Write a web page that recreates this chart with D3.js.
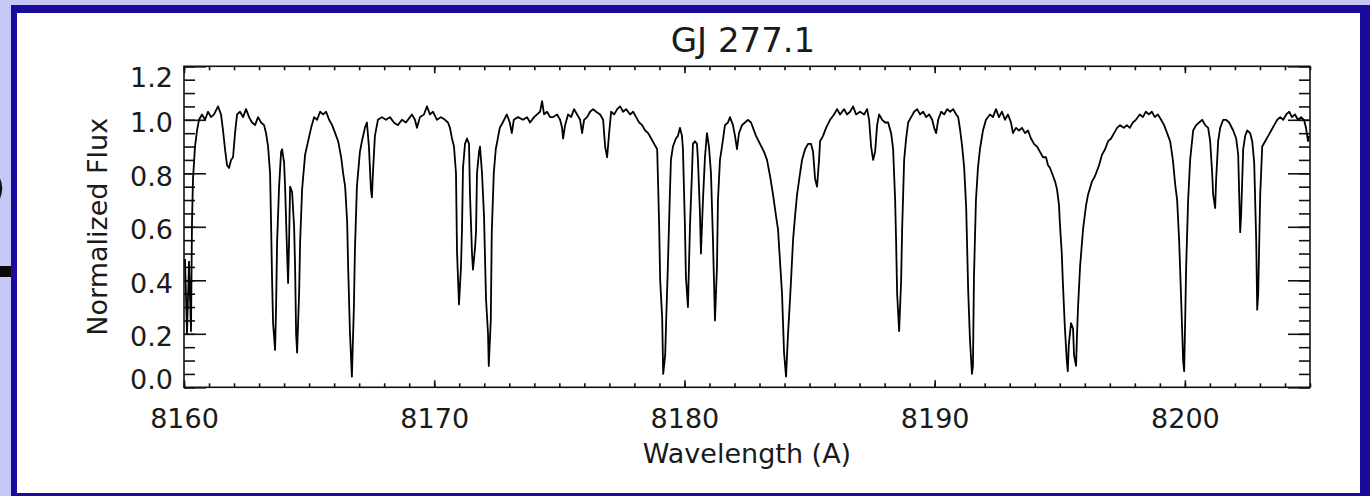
<!DOCTYPE html>
<html>
<head>
<meta charset="utf-8">
<script src="https://cdn.jsdelivr.net/npm/d3@7"></script>
<style>
  body { margin: 0; background: #c8c8f8; }
  svg { display: block; }
  text { font-family: "DejaVu Sans", sans-serif; fill: #1a1a1a; }
</style>
</head>
<body>
<svg id="chart" width="1370" height="496"></svg>
<script>
const title = "GJ 277.1";
const xLabel = "Wavelength (A)";
const yLabel = "Normalized Flux";
const xDomain = [8160, 8205];
const yDomain = [0, 1.2];
const xTicks = [8160, 8170, 8180, 8190, 8200];
const yTicks = [0, 0.2, 0.4, 0.6, 0.8, 1.0, 1.2];

// spectrum
const wavelength = [
  8160.04, 8160.12, 8160.20, 8160.28, 8160.32, 8160.36, 8160.44, 8160.52, 8160.60, 8160.72,
  8160.84, 8160.96, 8161.08, 8161.20, 8161.36, 8161.48, 8161.56, 8161.64, 8161.72, 8161.80,
  8161.88, 8161.96, 8162.04, 8162.12, 8162.24, 8162.36, 8162.48, 8162.60, 8162.72, 8162.84,
  8162.96, 8163.08, 8163.20, 8163.28, 8163.36, 8163.44, 8163.48, 8163.52, 8163.56, 8163.64,
  8163.68, 8163.72, 8163.80, 8163.88, 8163.92, 8164.00, 8164.04, 8164.12, 8164.16, 8164.20,
  8164.24, 8164.32, 8164.40, 8164.44, 8164.48, 8164.52, 8164.60, 8164.64, 8164.72, 8164.84,
  8164.96, 8165.08, 8165.20, 8165.32, 8165.44, 8165.56, 8165.68, 8165.80, 8165.92, 8166.04,
  8166.16, 8166.28, 8166.36, 8166.44, 8166.52, 8166.56, 8166.63, 8166.71, 8166.79, 8166.83,
  8166.91, 8167.03, 8167.11, 8167.23, 8167.31, 8167.39, 8167.47, 8167.51, 8167.55, 8167.63,
  8167.75, 8167.91, 8168.07, 8168.23, 8168.39, 8168.55, 8168.71, 8168.87, 8169.03, 8169.11,
  8169.23, 8169.31, 8169.43, 8169.59, 8169.71, 8169.83, 8169.95, 8170.11, 8170.27, 8170.43,
  8170.55, 8170.63, 8170.71, 8170.79, 8170.87, 8170.91, 8170.99, 8171.07, 8171.11, 8171.15,
  8171.23, 8171.31, 8171.39, 8171.43, 8171.51, 8171.55, 8171.63, 8171.67, 8171.71, 8171.79,
  8171.83, 8171.91, 8171.99, 8172.07, 8172.15, 8172.18, 8172.26, 8172.30, 8172.38, 8172.46,
  8172.62, 8172.74, 8172.90, 8173.02, 8173.10, 8173.18, 8173.35, 8173.55, 8173.71, 8173.83,
  8173.99, 8174.11, 8174.23, 8174.31, 8174.39, 8174.51, 8174.63, 8174.75, 8174.91, 8175.03,
  8175.11, 8175.15, 8175.23, 8175.35, 8175.47, 8175.59, 8175.71, 8175.83, 8175.91, 8175.99,
  8176.11, 8176.23, 8176.35, 8176.47, 8176.63, 8176.75, 8176.83, 8176.91, 8176.99, 8177.07,
  8177.19, 8177.31, 8177.43, 8177.55, 8177.67, 8177.83, 8177.95, 8178.07, 8178.19, 8178.31,
  8178.43, 8178.55, 8178.67, 8178.79, 8178.91, 8178.95, 8178.99, 8179.03, 8179.11, 8179.15,
  8179.23, 8179.27, 8179.34, 8179.42, 8179.46, 8179.54, 8179.66, 8179.74, 8179.82, 8179.90,
  8179.94, 8180.02, 8180.06, 8180.14, 8180.22, 8180.30, 8180.34, 8180.42, 8180.50, 8180.54,
  8180.62, 8180.66, 8180.74, 8180.82, 8180.90, 8180.98, 8181.06, 8181.14, 8181.22, 8181.30,
  8181.34, 8181.42, 8181.50, 8181.62, 8181.74, 8181.82, 8181.94, 8182.02, 8182.10, 8182.18,
  8182.30, 8182.42, 8182.54, 8182.66, 8182.74, 8182.86, 8183.02, 8183.18, 8183.30, 8183.42,
  8183.54, 8183.66, 8183.74, 8183.82, 8183.90, 8183.98, 8184.06, 8184.14, 8184.22, 8184.26,
  8184.34, 8184.42, 8184.50, 8184.62, 8184.70, 8184.82, 8184.94, 8185.06, 8185.14, 8185.22,
  8185.30, 8185.38, 8185.42, 8185.54, 8185.66, 8185.82, 8185.98, 8186.10, 8186.22, 8186.38,
  8186.50, 8186.62, 8186.74, 8186.86, 8187.02, 8187.18, 8187.30, 8187.38, 8187.46, 8187.54,
  8187.62, 8187.70, 8187.78, 8187.90, 8188.02, 8188.14, 8188.26, 8188.34, 8188.42, 8188.46,
  8188.50, 8188.58, 8188.66, 8188.70, 8188.78, 8188.86, 8188.94, 8189.06, 8189.18, 8189.30,
  8189.42, 8189.54, 8189.66, 8189.78, 8189.90, 8189.98, 8190.06, 8190.14, 8190.26, 8190.38,
  8190.50, 8190.62, 8190.74, 8190.86, 8190.94, 8191.02, 8191.10, 8191.18, 8191.26, 8191.34,
  8191.41, 8191.49, 8191.53, 8191.57, 8191.65, 8191.73, 8191.81, 8191.93, 8192.05, 8192.21,
  8192.33, 8192.45, 8192.57, 8192.69, 8192.81, 8192.93, 8193.05, 8193.13, 8193.25, 8193.37,
  8193.49, 8193.61, 8193.73, 8193.85, 8193.97, 8194.09, 8194.21, 8194.33, 8194.45, 8194.53,
  8194.61, 8194.73, 8194.81, 8194.89, 8194.97, 8195.00, 8195.08, 8195.12, 8195.20, 8195.28,
  8195.32, 8195.36, 8195.45, 8195.53, 8195.57, 8195.65, 8195.69, 8195.73, 8195.81, 8195.93,
  8196.05, 8196.13, 8196.29, 8196.41, 8196.57, 8196.69, 8196.81, 8196.93, 8197.05, 8197.17,
  8197.29, 8197.41, 8197.56, 8197.68, 8197.80, 8197.92, 8198.04, 8198.20, 8198.32, 8198.44,
  8198.56, 8198.68, 8198.80, 8198.92, 8199.05, 8199.17, 8199.25, 8199.33, 8199.41, 8199.49,
  8199.53, 8199.61, 8199.69, 8199.77, 8199.85, 8199.93, 8199.97, 8200.01, 8200.05, 8200.13,
  8200.21, 8200.33, 8200.45, 8200.57, 8200.69, 8200.81, 8200.93, 8201.01, 8201.09, 8201.13,
  8201.21, 8201.25, 8201.33, 8201.41, 8201.53, 8201.65, 8201.77, 8201.93, 8202.05, 8202.13,
  8202.21, 8202.25, 8202.33, 8202.41, 8202.49, 8202.61, 8202.69, 8202.77, 8202.85, 8202.89,
  8202.93, 8203.01, 8203.09, 8203.21, 8203.33, 8203.45, 8203.57, 8203.69, 8203.81, 8203.93,
  8204.05, 8204.17, 8204.28, 8204.40, 8204.52, 8204.64, 8204.76, 8204.84, 8204.92, 8204.96
];

const flux = [
  0.48, 0.20, 0.47, 0.21, 0.62, 0.78, 0.90, 0.96, 1.00, 1.02,
  1.00, 1.03, 1.01, 1.02, 1.05, 1.02, 0.96, 0.89, 0.83, 0.82,
  0.85, 0.86, 0.95, 1.02, 1.03, 1.01, 1.04, 1.01, 0.99, 0.98,
  1.01, 0.99, 0.98, 0.95, 0.90, 0.80, 0.61, 0.40, 0.24, 0.14,
  0.30, 0.54, 0.75, 0.88, 0.89, 0.84, 0.75, 0.50, 0.39, 0.55,
  0.75, 0.73, 0.60, 0.45, 0.20, 0.13, 0.35, 0.54, 0.74, 0.87,
  0.92, 0.97, 1.01, 1.00, 1.03, 1.02, 1.03, 1.00, 0.98, 0.95,
  0.92, 0.86, 0.80, 0.75, 0.62, 0.45, 0.21, 0.04, 0.30, 0.51,
  0.75, 0.88, 0.92, 0.97, 0.99, 0.90, 0.74, 0.71, 0.80, 0.94,
  1.00, 1.01, 1.00, 1.01, 0.99, 0.98, 1.00, 0.99, 1.01, 1.02,
  1.00, 0.97, 1.01, 1.02, 1.05, 1.02, 1.03, 1.00, 1.01, 1.00,
  0.99, 0.97, 0.93, 0.90, 0.80, 0.51, 0.31, 0.45, 0.59, 0.82,
  0.91, 0.93, 0.91, 0.72, 0.50, 0.44, 0.52, 0.58, 0.80, 0.88,
  0.90, 0.80, 0.64, 0.33, 0.20, 0.08, 0.25, 0.58, 0.80, 0.89,
  0.97, 0.99, 1.02, 0.99, 0.95, 1.00, 1.01, 1.00, 1.01, 0.99,
  1.01, 1.02, 1.03, 1.07, 1.02, 1.03, 1.01, 1.01, 1.02, 1.00,
  0.97, 0.93, 0.98, 1.02, 1.01, 1.04, 1.02, 1.00, 0.95, 1.00,
  1.01, 1.03, 1.04, 1.03, 1.02, 1.00, 0.90, 0.86, 0.95, 1.03,
  1.02, 1.04, 1.05, 1.03, 1.04, 1.02, 1.03, 1.01, 0.99, 0.98,
  0.96, 0.95, 0.93, 0.91, 0.89, 0.75, 0.60, 0.40, 0.26, 0.05,
  0.12, 0.25, 0.46, 0.73, 0.85, 0.90, 0.93, 0.94, 0.97, 0.94,
  0.89, 0.60, 0.41, 0.30, 0.60, 0.80, 0.91, 0.92, 0.91, 0.85,
  0.65, 0.50, 0.70, 0.86, 0.95, 0.90, 0.80, 0.55, 0.25, 0.45,
  0.70, 0.85, 0.90, 0.98, 0.99, 1.01, 0.98, 0.94, 0.89, 0.95,
  0.98, 0.99, 1.00, 0.99, 0.97, 0.94, 0.91, 0.88, 0.85, 0.79,
  0.72, 0.64, 0.59, 0.47, 0.35, 0.13, 0.04, 0.20, 0.33, 0.40,
  0.55, 0.64, 0.72, 0.80, 0.85, 0.89, 0.91, 0.91, 0.88, 0.78,
  0.75, 0.85, 0.92, 0.94, 0.97, 1.00, 1.02, 1.04, 1.02, 1.04,
  1.02, 1.03, 1.05, 1.02, 1.03, 1.02, 1.04, 1.00, 0.90, 0.85,
  0.88, 0.98, 1.02, 1.00, 0.99, 0.99, 0.95, 0.89, 0.70, 0.54,
  0.35, 0.21, 0.40, 0.59, 0.85, 0.93, 0.99, 1.01, 1.03, 1.04,
  1.02, 1.03, 1.01, 1.02, 1.00, 0.97, 0.95, 1.00, 1.03, 1.02,
  1.04, 1.03, 1.04, 1.02, 1.01, 0.96, 0.90, 0.82, 0.67, 0.36,
  0.18, 0.05, 0.08, 0.41, 0.70, 0.82, 0.89, 0.96, 1.00, 1.02,
  1.01, 1.04, 1.01, 1.03, 1.00, 1.02, 0.99, 0.95, 0.97, 0.96,
  0.97, 0.95, 0.96, 0.93, 0.91, 0.90, 0.88, 0.86, 0.86, 0.83,
  0.82, 0.79, 0.77, 0.74, 0.68, 0.62, 0.50, 0.40, 0.23, 0.10,
  0.06, 0.16, 0.24, 0.22, 0.12, 0.08, 0.20, 0.30, 0.45, 0.59,
  0.68, 0.72, 0.77, 0.79, 0.83, 0.87, 0.89, 0.92, 0.93, 0.95,
  0.97, 0.98, 0.97, 0.98, 0.97, 0.99, 1.00, 1.02, 1.01, 1.03,
  1.02, 1.03, 1.01, 1.02, 1.00, 0.98, 0.96, 0.94, 0.92, 0.87,
  0.84, 0.76, 0.70, 0.55, 0.33, 0.10, 0.06, 0.24, 0.45, 0.70,
  0.85, 0.96, 0.98, 0.99, 1.00, 0.98, 0.97, 0.92, 0.80, 0.72,
  0.67, 0.78, 0.92, 0.97, 1.00, 1.00, 0.99, 0.96, 0.93, 0.87,
  0.58, 0.65, 0.89, 0.94, 0.96, 0.95, 0.92, 0.84, 0.55, 0.29,
  0.35, 0.72, 0.90, 0.92, 0.94, 0.96, 0.98, 1.00, 1.01, 1.00,
  1.02, 1.03, 1.01, 1.02, 1.00, 1.01, 1.00, 0.97, 0.92, 0.94
];

const svg = d3.select("#chart"),
    width = +svg.attr("width"),
    height = +svg.attr("height"),
    margin = {top: 66.3, right: 60, bottom: 108.7, left: 184};

// slide background and frame
svg.append("rect").attr("width", width).attr("height", height).attr("fill", "#c8c8f8");
svg.append("rect").attr("x", 11).attr("y", 5).attr("width", width - 11).attr("height", height - 5).attr("fill", "#1b0b9b");
svg.append("rect").attr("x", 17).attr("y", 13).attr("width", 1343).attr("height", 480).attr("fill", "#fff");
svg.append("rect").attr("x", 0).attr("y", 266).attr("width", 11).attr("height", 11).attr("fill", "#0a0a0a");
// bit of a glyph peeking out from behind the frame
svg.append("path").attr("d", "M-2,177 Q4,188 -2,200").attr("fill", "none")
    .attr("stroke", "#111").attr("stroke-width", 2.5);

const x = d3.scaleLinear().domain(xDomain).range([margin.left, width - margin.right]);
const y = d3.scaleLinear().domain(yDomain).range([height - margin.bottom, margin.top]);

const minorX = d3.range(xDomain[0], xDomain[1] + 0.5, 1);
const minorY = d3.range(0, 25).map(i => i * 0.05);

function styleAxis(g) {
    g.select(".domain").remove();
    g.attr("color", "#111").attr("font-family", "DejaVu Sans").attr("font-size", 27);
    g.selectAll("line").attr("stroke-width", 1.6);
}

const y0 = y(0), y1 = y(1.2), x0 = x(xDomain[0]), x1 = x(xDomain[1]);

// bottom axis
svg.append("g").attr("transform", "translate(0," + y0 + ")")
    .call(d3.axisBottom(x).tickValues(minorX).tickSize(-4).tickFormat(""))
    .call(styleAxis);
svg.append("g").attr("transform", "translate(0," + y0 + ")")
    .call(d3.axisBottom(x).tickValues(xTicks).tickSizeInner(-7).tickSizeOuter(0).tickFormat(d3.format("d")))
    .call(styleAxis)
    .call(g => g.selectAll("text").attr("y", 41).attr("dy", null).attr("fill", "#1a1a1a"));

// top axis
svg.append("g").attr("transform", "translate(0," + y1 + ")")
    .call(d3.axisTop(x).tickValues(minorX).tickSize(-4).tickFormat(""))
    .call(styleAxis);
svg.append("g").attr("transform", "translate(0," + y1 + ")")
    .call(d3.axisTop(x).tickValues(xTicks).tickSizeInner(-7).tickSizeOuter(0).tickFormat(""))
    .call(styleAxis);

// left axis
svg.append("g").attr("transform", "translate(" + x0 + ",0)")
    .call(d3.axisLeft(y).tickValues(minorY).tickSize(-11).tickFormat(""))
    .call(styleAxis);
svg.append("g").attr("transform", "translate(" + x0 + ",0)")
    .call(d3.axisLeft(y).tickValues(yTicks).tickSizeInner(-22).tickSizeOuter(0).tickPadding(11)
        .tickFormat(d3.format(".1f")))
    .call(styleAxis)
    .call(g => g.selectAll("text").attr("dy", null).attr("fill", "#1a1a1a")
        .attr("y", d => d === 1.2 ? 20 : d === 0 ? 1 : 12));

// right axis
svg.append("g").attr("transform", "translate(" + x1 + ",0)")
    .call(d3.axisRight(y).tickValues(minorY).tickSize(-11).tickFormat(""))
    .call(styleAxis);
svg.append("g").attr("transform", "translate(" + x1 + ",0)")
    .call(d3.axisRight(y).tickValues(yTicks).tickSizeInner(-22).tickSizeOuter(0).tickFormat(""))
    .call(styleAxis);

// spectrum
const line = d3.line()
    .x(d => x(d[0]))
    .y(d => y(d[1]));

svg.append("path")
    .datum(d3.zip(wavelength, flux))
    .attr("fill", "none")
    .attr("stroke", "#000")
    .attr("stroke-width", 1.8)
    .attr("stroke-linejoin", "round")
    .attr("d", line);

// plot box
svg.append("rect")
    .attr("x", x0).attr("y", y1)
    .attr("width", x1 - x0).attr("height", y0 - y1)
    .attr("fill", "none").attr("stroke", "#111").attr("stroke-width", 1.6);

// titles
svg.append("text")
    .attr("x", (x0 + x1) / 2 - 4).attr("y", 52)
    .attr("text-anchor", "middle").attr("font-size", 34)
    .text(title);

svg.append("text")
    .attr("x", (x0 + x1) / 2).attr("y", 463)
    .attr("text-anchor", "middle").attr("font-size", 27)
    .text(xLabel);

svg.append("text")
    .attr("transform", "translate(107," + ((y0 + y1) / 2) + ") rotate(-90)")
    .attr("text-anchor", "middle").attr("font-size", 27)
    .text(yLabel);
</script>
</body>
</html>
